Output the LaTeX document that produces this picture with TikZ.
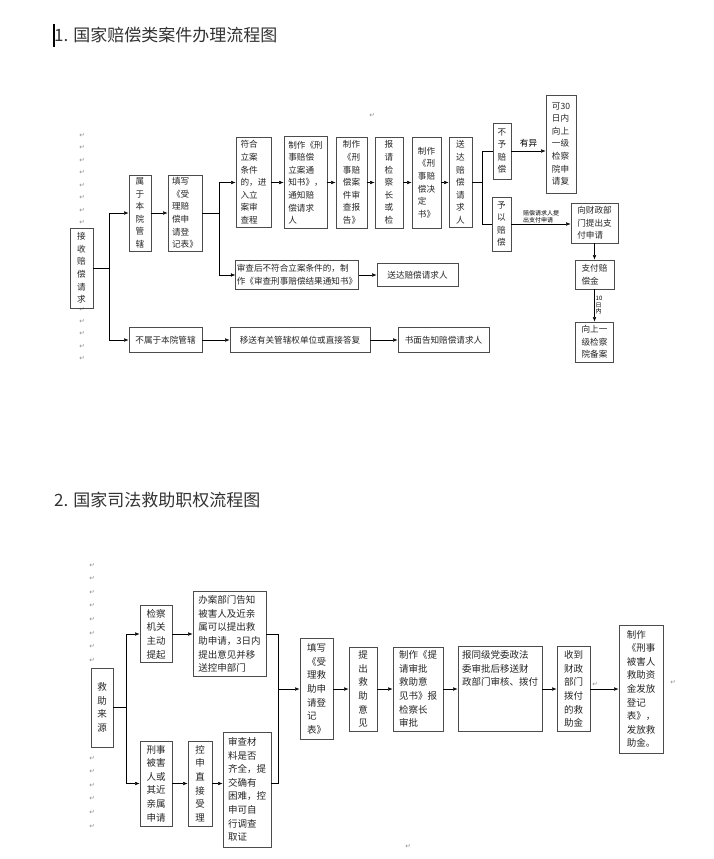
\documentclass[tikz,border=0pt]{standalone}
\usepackage{fontspec}
\setmainfont{Noto Sans CJK SC}
\newfontfamily\duanfont{DejaVu Sans}
\usetikzlibrary{arrows.meta}

\begin{document}
\begin{tikzpicture}[
      x=1pt, y=-1pt,
      >={Latex[length=4.5pt,width=3.5pt]},
      kuang/.style={
        draw=black!70,
        line width=0.9pt,
        inner sep=1.5pt,
        align=left,
        text=black!85,
        font=\fontsize{8.6}{12.6}\selectfont
      },
      kuangb/.style={
        kuang,
        font=\fontsize{9.5}{13.6}\selectfont
      },
      biaoti/.style={
        anchor=west,
        inner sep=0pt,
        text=black!80,
        font=\fontsize{17}{17}\selectfont
      },
      xiaozi/.style={
        inner sep=1pt,
        align=left,
        font=\fontsize{6}{6.5}\selectfont
      },
      duan/.style={
        inner sep=0pt,
        text=black!45,
        font=\duanfont\fontsize{6.5}{6.5}\selectfont
      }
    ]
    \useasboundingbox[fill=white] (0,0) rectangle (714,859);

    % titres
    \draw[line width=1.5pt] (54,24) -- (54,47);
    \node[biaoti] (biaoti1) at (54,35) {1. 国家赔偿类案件办理流程图};
    \node[biaoti] (biaoti2) at (54,500) {2. 国家司法救助职权流程图};

    % marques de paragraphe
    \foreach \i in {0,...,7}
      \node[duan] (da\i) at (82,{135+12.5*\i}) {↵};
    \foreach \i in {0,...,4}
      \node[duan] (db\i) at (82,{309+12.4*\i}) {↵};
    \foreach \i in {0,...,7}
      \node[duan] (dc\i) at (92,{565+13.6*\i}) {↵};
    \foreach \i in {0,...,5}
      \node[duan] (dd\i) at (92,{758+13.6*\i}) {↵};
    \node[duan] (de1) at (372,115) {↵};
    \node[duan] (de2) at (408,846) {↵};
    \node[duan] (de3) at (595,684) {↵};
    \node[duan] (de4) at (673,682) {↵};

    % 1. peichang
    \node[kuang, minimum width=23, minimum height=80] (jieshou) at (81.5,268) {接\\收\\赔\\偿\\请\\求};
    \node[kuang, minimum width=22, minimum height=76] (benyuan) at (140,213) {属\\于\\本\\院\\管\\辖};
    \node[kuang, minimum width=34, minimum height=76] (tianxie) at (185,213) {填写\\《受\\理赔\\偿申\\请登\\记表》};
    \node[kuang, minimum width=35, minimum height=90] (fuhe) at (253.5,182.5) {符合\\立案\\条件\\的，进\\入立\\案审\\查程};
    \node[kuang, minimum width=43, minimum height=92] (lian) at (305.5,182.5) {制作《刑\\事赔偿\\立案通\\知书》，\\通知赔\\偿请求\\人};
    \node[kuang, minimum width=31, minimum height=91] (baogao) at (351.5,182.5) {制作\\《刑\\事赔\\偿案\\件审\\查报\\告》};
    \node[kuang, minimum width=28, minimum height=91] (baoqing) at (389,182.5) {报\\请\\检\\察\\长\\或\\检};
    \node[kuang, minimum width=29, minimum height=91] (jueding) at (426.5,182.5) {制作\\《刑\\事赔\\偿决\\定\\书》};
    \node[kuang, minimum width=23, minimum height=90] (songda) at (460.5,182.5) {送\\达\\赔\\偿\\请\\求\\人};
    \node[kuang, minimum width=18, minimum height=56] (buyu) at (502,151) {不\\予\\赔\\偿};
    \node[kuang, minimum width=30, minimum height=98] (fuyi) at (561,144) {可30\\日内\\向上\\一级\\检察\\院申\\请复};
    \node[kuang, minimum width=19, minimum height=54] (yuyi) at (501.5,224) {予\\以\\赔\\偿};
    \node[kuang, minimum width=47, minimum height=40] (caizheng) at (594.5,223) {向财政部\\门提出支\\付申请};
    \node[kuang, minimum width=39, minimum height=29] (zhifu) at (594.5,274.5) {支付赔\\偿金};
    \node[kuang, minimum width=38, minimum height=40] (beian) at (594.5,342) {向上一\\级检察\\院备案};
    \node[kuang, minimum width=122, minimum height=29, inner xsep=1pt] (bufuhe) at (297,275) {审查后不符合立案条件的，制\\作《审查刑事赔偿结果通知书》};
    \node[kuang, minimum width=81, minimum height=23] (songda2) at (417.5,275) {送达赔偿请求人};
    \node[kuang, minimum width=73, minimum height=25] (bushu) at (165.5,340) {不属于本院管辖};
    \node[kuang, minimum width=140, minimum height=25] (yisong) at (300,340) {移送有关管辖权单位或直接答复};
    \node[kuang, minimum width=91, minimum height=25] (shumian) at (443.5,340) {书面告知赔偿请求人};

    \coordinate (j1) at (109,268);
    \coordinate (j2) at (219,213);
    \coordinate (j3) at (482,182.5);
    \draw (jieshou) -- (j1);
    \draw[->] (j1) |- (benyuan);
    \draw[->] (j1) |- (bushu);
    \draw[->] (benyuan) -- (tianxie);
    \draw (tianxie) -- (j2);
    \draw[->] (j2) |- (fuhe);
    \draw[->] (j2) |- (bufuhe);
    \draw[->] (fuhe) -- (lian);
    \draw[->] (lian) -- (baogao);
    \draw[->] (baogao) -- (baoqing);
    \draw[->] (baoqing) -- (jueding);
    \draw[->] (jueding) -- (songda);
    \draw (songda) -- (j3);
    \draw (j3) |- (buyu);
    \draw (j3) |- (yuyi);
    \draw[->] (buyu) -- (buyu -| fuyi.west)
      node[midway, above, font=\fontsize{8.6}{9}\selectfont] (youyi) {有异};
    \draw[->] (yuyi) -- (yuyi -| caizheng.west)
      node[midway, above, xiaozi] (tichu1) {赔偿请求人提\\出支付申请};
    \draw[->] (caizheng) -- (zhifu);
    \draw[->] (zhifu) -- (beian)
      node[midway, right, xiaozi] (shitian) {10\\日\\内};
    \draw[->] (bufuhe) -- (songda2);
    \draw[->] (bushu) -- (yisong);
    \draw[->] (yisong) -- (shumian);

    % 2. jiuzhu
    \node[kuangb, minimum width=22, minimum height=79] (jiuzhu) at (102,707.5) {救\\助\\来\\源};
    \node[kuangb, minimum width=32, minimum height=57] (zhudong) at (156,634) {检察\\机关\\主动\\提起};
    \node[kuangb, minimum width=73, minimum height=85] (gaozhi) at (229.5,634) {办案部门告知\\被害人及近亲\\属可以提出救\\助申请，3日内\\提出意见并移\\送控申部门};
    \node[kuangb, minimum width=32, minimum height=85] (shenqing) at (156,783.5) {刑事\\被害\\人或\\其近\\亲属\\申请};
    \node[kuangb, minimum width=24, minimum height=85] (kongshen) at (200,783.5) {控\\申\\直\\接\\受\\理};
    \node[kuangb, minimum width=48, minimum height=115] (shencha) at (247,789.5) {审查材\\料是否\\齐全，提\\交确有\\困难，控\\申可自\\行调查\\取证};
    \node[kuangb, minimum width=33, minimum height=101] (dengji) at (316.5,689) {填写\\《受\\理救\\助申\\请登\\记\\表》};
    \node[kuangb, minimum width=28, minimum height=84] (tichu) at (363,689) {提\\出\\救\\助\\意\\见};
    \node[kuangb, minimum width=50, minimum height=84] (yijian) at (418,689) {制作《提\\请审批\\救助意\\见书》报\\检察长\\审批};
    \node[kuangb, minimum width=84, minimum height=85] (weiyuan) at (500,689) {};
    \node[kuangb, draw=none, anchor=north west, inner sep=4pt] (weiyuanzi) at (weiyuan.north west) {报同级党委政法\\委审批后移送财\\政部门审核、拨付};
    \node[kuangb, minimum width=33, minimum height=85] (shoudao) at (573.5,689) {收到\\财政\\部门\\拨付\\的救\\助金};
    \node[kuangb, minimum width=44, minimum height=128] (fafang) at (641,689) {制作\\《刑事\\被害人\\救助资\\金发放\\登记\\表》，\\发放救\\助金。};

    \coordinate (j4) at (126,707.5);
    \coordinate (j5) at (278,689);
    \draw (jiuzhu) -- (j4);
    \draw[->] (j4) |- (zhudong);
    \draw[->] (j4) |- (shenqing);
    \draw[->] (zhudong) -- (gaozhi);
    \draw[->] (shenqing) -- (kongshen);
    \draw[->] (kongshen) -- (kongshen -| shencha.west);
    \draw (gaozhi) -| (j5);
    \draw (shencha.east |- kongshen) -| (j5);
    \draw[->] (j5) -- (dengji);
    \draw[->] (dengji) -- (tichu);
    \draw[->] (tichu) -- (yijian);
    \draw[->] (yijian) -- (weiyuan);
    \draw[->] (weiyuan) -- (shoudao);
    \draw[->] (shoudao) -- (fafang);
  \end{tikzpicture}
\end{document}
